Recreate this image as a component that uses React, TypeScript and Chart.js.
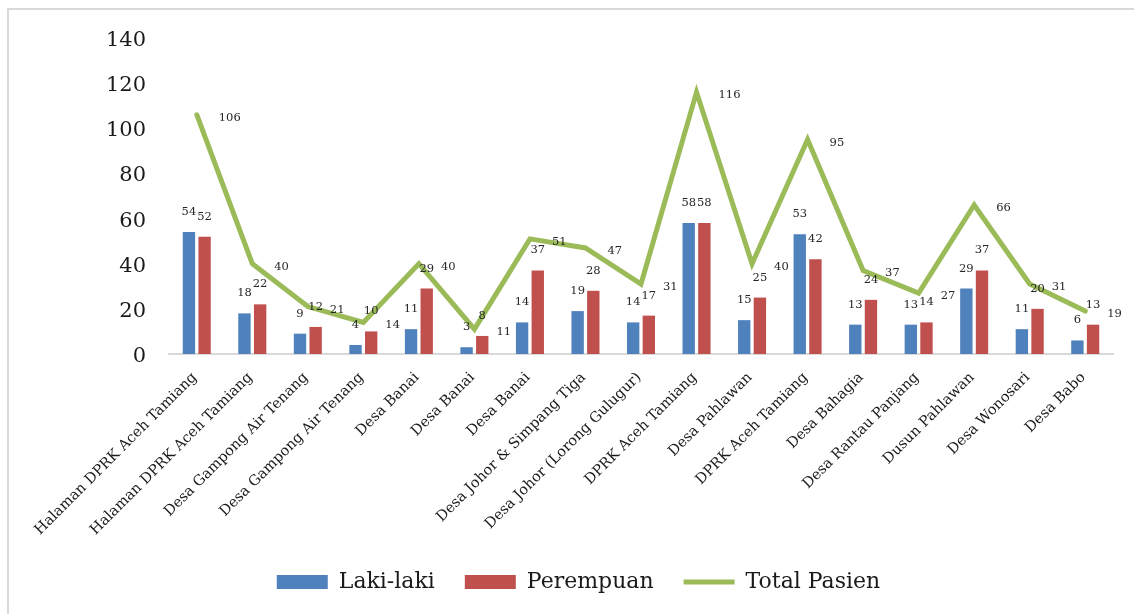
import React, { useEffect, useRef } from 'react';
import { Chart, registerables } from 'chart.js';

Chart.register(...registerables);

const categories = [
  'Halaman DPRK Aceh Tamiang',
  'Halaman DPRK Aceh Tamiang',
  'Desa Gampong Air Tenang',
  'Desa Gampong Air Tenang',
  'Desa Banai',
  'Desa Banai',
  'Desa Banai',
  'Desa Johor & Simpang Tiga',
  'Desa Johor (Lorong Gulugur)',
  'DPRK Aceh Tamiang',
  'Desa Pahlawan',
  'DPRK Aceh Tamiang',
  'Desa Bahagia',
  'Desa Rantau Panjang',
  'Dusun Pahlawan',
  'Desa Wonosari',
  'Desa Babo',
];
const lakiLaki = [54, 18, 9, 4, 11, 3, 14, 19, 14, 58, 15, 53, 13, 13, 29, 11, 6];
const perempuan = [52, 22, 12, 10, 29, 8, 37, 28, 17, 58, 25, 42, 24, 14, 37, 20, 13];
const totalPasien = [106, 40, 21, 14, 40, 11, 51, 47, 31, 116, 40, 95, 37, 27, 66, 31, 19];
const yMin = 0;
const yMax = 140;
const yStep = 20;

const FONT = '"DejaVu Serif", serif';

const valueLabels = {
  id: 'valueLabels',
  afterDatasetsDraw(chart: any) {
    const ctx = chart.ctx;
    ctx.save();
    ctx.font = `11.5px ${FONT}`;
    ctx.fillStyle = '#262626';
    ctx.textBaseline = 'middle';
    chart.data.datasets.forEach((ds: any, i: number) => {
      const meta = chart.getDatasetMeta(i);
      meta.data.forEach((el: any, j: number) => {
        const v = ds.data[j];
        if (ds.type === 'line') {
          ctx.textAlign = 'left';
          ctx.fillText(String(v), el.x + 22, el.y + 3);
        } else {
          ctx.textAlign = 'center';
          ctx.fillText(String(v), el.x, el.y - 20);
        }
      });
    });
    ctx.restore();
  },
};

export default function App() {
  const ref = useRef<HTMLCanvasElement>(null);
  useEffect(() => {
    const chart = new Chart(ref.current as HTMLCanvasElement, {
      type: 'bar',
      data: {
        labels: categories,
        datasets: [
          {
            type: 'bar',
            label: 'Laki-laki',
            data: lakiLaki,
            backgroundColor: '#4f81bd',
            borderWidth: 0,
            pointStyle: 'rect',
            categoryPercentage: 0.564,
            barPercentage: 0.79,
          } as any,
          {
            type: 'bar',
            label: 'Perempuan',
            data: perempuan,
            backgroundColor: '#c0504d',
            borderWidth: 0,
            pointStyle: 'rect',
            categoryPercentage: 0.564,
            barPercentage: 0.79,
          } as any,
          {
            type: 'line',
            label: 'Total Pasien',
            data: totalPasien,
            borderColor: '#9bbb59',
            backgroundColor: '#9bbb59',
            borderWidth: 5,
            pointRadius: 0,
            pointHoverRadius: 0,
            pointStyle: 'line',
            borderCapStyle: 'round',
            tension: 0,
            order: -1,
          } as any,
        ],
      },
      options: {
        responsive: false,
        animation: false,
        devicePixelRatio: 1,
        layout: { padding: { left: 23, right: 0, top: 38, bottom: 11 } },
        scales: {
          x: {
            grid: { display: false, drawTicks: false },
            border: { display: true, color: '#d9d9d9', width: 2 },
            ticks: {
              autoSkip: false,
              maxRotation: 45,
              minRotation: 45,
              padding: 15,
              labelOffset: -2,
              color: '#1a1a1a',
              font: { family: FONT, size: 14.5 },
            },
            afterFit: (s: any) => {
              const lh = s.chart.legend ? s.chart.legend.height : 62;
              s.height = s.chart.height - 11 - lh - 354;
            },
          },
          y: {
            min: yMin,
            max: yMax,
            grid: { display: false, drawTicks: false },
            border: { display: false },
            ticks: {
              stepSize: yStep,
              padding: 23,
              labelOffset: 2.5,
              color: '#1a1a1a',
              font: { family: FONT, size: 21 },
            },
            afterFit: (s: any) => {
              s.width = 146;
            },
          },
          yRight: {
            type: 'linear',
            position: 'right',
            display: true,
            grid: { display: false, drawTicks: false },
            border: { display: false },
            ticks: { display: false },
            afterFit: (s: any) => {
              s.width = 21;
            },
          },
        },
        plugins: {
          legend: {
            position: 'bottom',
            labels: {
              usePointStyle: true,
              pointStyleWidth: 51,
              boxHeight: 14,
              padding: 30,
              color: '#1a1a1a',
              font: { family: FONT, size: 22 },
              sort: (a: any, b: any) => a.datasetIndex - b.datasetIndex,
            },
          },
          tooltip: { enabled: false },
        },
      },
      plugins: [valueLabels],
    } as any);
    return () => chart.destroy();
  }, []);
  return (
    <div
      style={{
        position: 'fixed',
        left: 0,
        top: 0,
        width: 1134,
        height: 614,
        overflow: 'hidden',
        background: '#ffffff',
      }}
    >
      <div
        style={{
          position: 'absolute',
          left: 7,
          top: 8,
          width: 1140,
          height: 620,
          border: '2px solid #d9d9d9',
          boxSizing: 'border-box',
        }}
      />
      <canvas
        ref={ref}
        width={1134}
        height={614}
        style={{ position: 'absolute', left: 0, top: 0, width: 1134, height: 614 }}
      />
    </div>
  );
}
